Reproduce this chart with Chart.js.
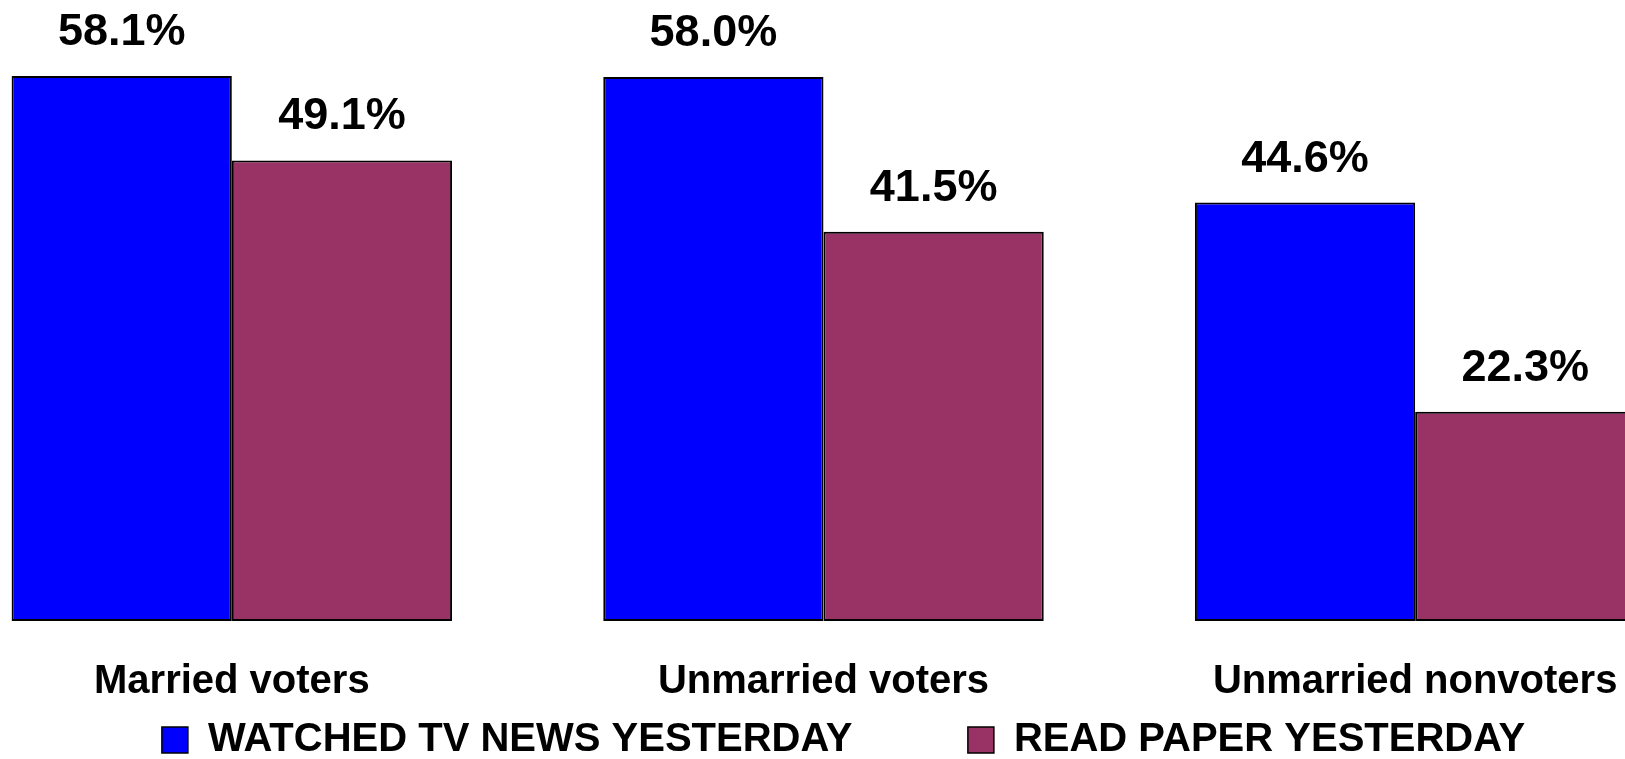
<!DOCTYPE html>
<html><head><meta charset="utf-8">
<script src="https://cdn.jsdelivr.net/npm/chart.js@4/dist/chart.umd.min.js"></script>
<style>
html,body{margin:0;padding:0;overflow:hidden;background:#fff;width:1625px;height:759px;}
#wrap{position:absolute;left:-64px;top:0;}
canvas{display:block;}
</style></head><body>
<div id="wrap"><canvas id="c"></canvas></div>
<script>
const categories = ['Married voters', 'Unmarried voters', 'Unmarried nonvoters'];
const seriesNames = ['WATCHED TV NEWS YESTERDAY', 'READ PAPER YESTERDAY'];
const tvNews = [58.1, 58.0, 44.6];
const readPaper = [49.1, 41.5, 22.3];
const seriesColors = ['#0000FF', '#993366'];

const FONT = '"Liberation Sans", Arial, Helvetica, sans-serif';
Chart.defaults.font.family = FONT;
Chart.defaults.color = '#000';

// layout geometry (page coordinates of the reference)
const LEGEND_FONT = 40, BOX_W = 26, BOX_H = 26;
const PLOT_W = 1775, CANVAS_LEFT = -64, PLOT_BOTTOM = 621;
const LEG_ITEM_TOP = 720;
const LEG_BOX1 = 162, LEG_BOX2 = 968;

const mctx = document.createElement('canvas').getContext('2d');
mctx.font = 'bold ' + LEGEND_FONT + 'px ' + FONT;
const t1 = mctx.measureText(seriesNames[0]).width;
const t2 = mctx.measureText(seriesNames[1]).width;
const sp = mctx.measureText(' ').width;
const half = LEGEND_FONT / 2;
const itemH = Math.max(LEGEND_FONT, BOX_H);
const need = (LEG_BOX2 - LEG_BOX1) - (BOX_W + half) - t1;
const nSp = Math.max(0, Math.floor((need - 4) / sp));
const legPad = need - nSp * sp;
const L = (BOX_W + half + t1 + nSp * sp) + legPad + (BOX_W + half + t2) + legPad;
const x0 = LEG_BOX1 - CANVAS_LEFT;
const canvasW = Math.round(2 * x0 + L - legPad);
const rightW = canvasW - PLOT_W;
const canvasH = LEG_ITEM_TOP + itemH + 10;
const legendTop = LEG_ITEM_TOP - legPad;
const xAxisH = legendTop - PLOT_BOTTOM;

const cv = document.getElementById('c');
cv.width = canvasW; cv.height = canvasH;
cv.style.width = canvasW + 'px'; cv.style.height = canvasH + 'px';

const valueLabels = {
  id: 'valueLabels',
  afterDatasetsDraw(chart) {
    const ctx = chart.ctx;
    ctx.save();
    ctx.font = 'bold 45px ' + FONT;
    ctx.fillStyle = '#000';
    ctx.textAlign = 'center';
    ctx.textBaseline = 'alphabetic';
    chart.data.datasets.forEach((ds, di) => {
      const meta = chart.getDatasetMeta(di);
      meta.data.forEach((bar, i) => {
        ctx.fillText(ds.data[i].toFixed(1) + '%', bar.x, bar.y - 31);
      });
    });
    ctx.restore();
  }
};

new Chart(cv, {
  type: 'bar',
  data: {
    labels: categories,
    datasets: [
      { label: seriesNames[0], data: tvNews, backgroundColor: seriesColors[0], borderColor: '#000', borderWidth: 2, borderSkipped: false },
      { label: seriesNames[1], data: readPaper, backgroundColor: seriesColors[1], borderColor: '#000', borderWidth: 2, borderSkipped: false }
    ]
  },
  options: {
    responsive: false,
    animation: false,
    devicePixelRatio: 1,
    categoryPercentage: 0.7445,
    barPercentage: 1.0,
    layout: { padding: 0 },
    plugins: {
      tooltip: { enabled: false },
      legend: {
        position: 'bottom',
        align: 'center',
        labels: {
          font: { size: LEGEND_FONT, weight: 'bold', family: FONT },
          color: '#000',
          boxWidth: BOX_W,
          boxHeight: BOX_H,
          padding: legPad,
          generateLabels(chart) {
            const items = Chart.defaults.plugins.legend.labels.generateLabels(chart);
            items.forEach(it => { it.lineWidth = 1.5; });
            if (items.length) items[0].text = items[0].text + ' '.repeat(nSp);
            return items;
          }
        }
      }
    },
    scales: {
      x: {
        grid: { display: false, drawTicks: false },
        border: { display: false },
        ticks: { font: { size: 40, weight: 'bold', family: FONT }, color: '#000', padding: 37, maxRotation: 0, autoSkip: false },
        afterFit(scale) { scale.height = xAxisH; }
      },
      y: {
        display: false,
        min: 0,
        max: 66.2
      },
      y2: {
        position: 'right',
        display: true,
        grid: { display: false, drawTicks: false },
        border: { display: false },
        ticks: { display: false },
        afterFit(scale) { scale.width = rightW; }
      }
    }
  },
  plugins: [valueLabels]
});
</script>
</body></html>
